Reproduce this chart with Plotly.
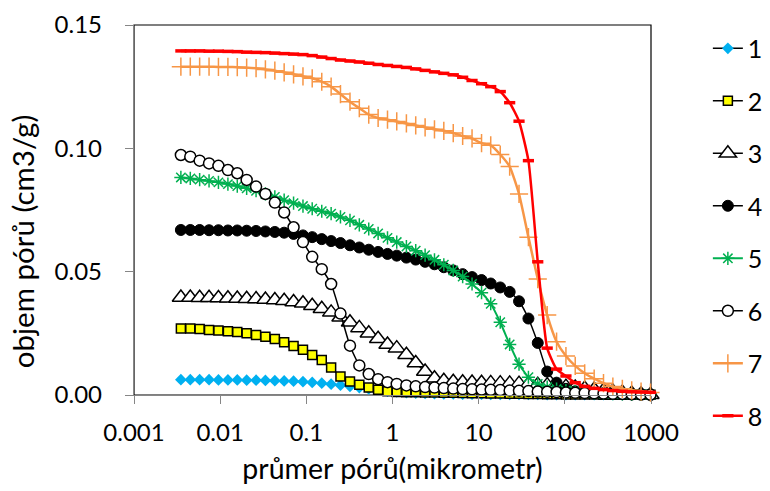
import plotly.graph_objects as go

# pore diameter (micrometre), shared measurement grid
diameter = [0.0035, 0.0045, 0.00578, 0.00743, 0.00955, 0.0123, 0.0158, 0.0203, 0.0261, 0.0335,
            0.0431, 0.0553, 0.0711, 0.0914, 0.117, 0.151, 0.194, 0.249, 0.321, 0.412,
            0.530, 0.681, 0.875, 1.12, 1.45, 1.86, 2.39, 3.07, 3.94, 5.07,
            6.52, 8.38, 10.8, 13.8, 17.8, 22.9, 29.4, 37.8, 48.5, 62.4,
            80.2, 103, 132, 170, 219, 281, 361, 465, 597, 767, 986]

s1 = [0.0062, 0.0062, 0.0062, 0.0062, 0.0061, 0.0061, 0.0061, 0.0060, 0.0060, 0.0059,
      0.0058, 0.0057, 0.0056, 0.0054, 0.0051, 0.0048, 0.0044, 0.0040, 0.0035, 0.0030,
      0.0025, 0.0020, 0.0016, 0.0013, 0.0010, 0.0008, 0.0006, 0.0005, 0.0004, 0.0004,
      0.0003, 0.0003, 0.0003, 0.0002, 0.0002, 0.0002, 0.0002, 0.0002, 0.0002, 0.0001,
      0.0001, 0.0001, 0.0001, 0.0001, 0.0001, 0.0001, 0.0001, 0.0001, 0.0001, 0.0001, 0.0001]
s2 = [0.0270, 0.0270, 0.0268, 0.0264, 0.0261, 0.0258, 0.0255, 0.0250, 0.0243, 0.0236,
      0.0227, 0.0214, 0.0199, 0.0183, 0.0162, 0.0142, 0.0111, 0.0075, 0.0055, 0.0042,
      0.0030, 0.0021, 0.0015, 0.0012, 0.0011, 0.0011, 0.0010, 0.0010, 0.0009, 0.0009,
      0.0008, 0.0007, 0.0007, 0.0006, 0.0006, 0.0005, 0.0005, 0.0004, 0.0004, 0.0003,
      0.0003, 0.0002, 0.0002, 0.0002, 0.0002, 0.0001, 0.0001, 0.0001, 0.0001, 0.0001, 0.0001]
s3 = [0.0395, 0.0395, 0.0394, 0.0394, 0.0393, 0.0392, 0.0391, 0.0390, 0.0389, 0.0387,
      0.0385, 0.0382, 0.0377, 0.0372, 0.0362, 0.0350, 0.0335, 0.0315, 0.0295, 0.0272,
      0.0250, 0.0228, 0.0205, 0.0190, 0.0163, 0.0130, 0.0095, 0.0068, 0.0058, 0.0054,
      0.0052, 0.0051, 0.0050, 0.0049, 0.0048, 0.0047, 0.0046, 0.0044, 0.0042, 0.0040,
      0.0037, 0.0034, 0.0030, 0.0026, 0.0022, 0.0018, 0.0014, 0.0010, 0.0006, 0.0003, 0.0001]
s4 = [0.0669, 0.0669, 0.0669, 0.0668, 0.0668, 0.0667, 0.0667, 0.0666, 0.0665, 0.0663,
      0.0661, 0.0658, 0.0653, 0.0647, 0.0640, 0.0632, 0.0624, 0.0616, 0.0607, 0.0598,
      0.0589, 0.0580, 0.0572, 0.0565, 0.0557, 0.0549, 0.0540, 0.0530, 0.0518, 0.0505,
      0.0490, 0.0478, 0.0466, 0.0452, 0.0436, 0.0418, 0.0380, 0.0310, 0.0211, 0.0095,
      0.0050, 0.0025, 0.0015, 0.0011, 0.0008, 0.0006, 0.0005, 0.0004, 0.0003, 0.0002, 0.0001]
s5 = [0.0882, 0.0878, 0.0873, 0.0868, 0.0862, 0.0855, 0.0847, 0.0838, 0.0828, 0.0815,
      0.0803, 0.0790, 0.0778, 0.0766, 0.0755, 0.0745, 0.0735, 0.0722, 0.0708, 0.0690,
      0.0673, 0.0655, 0.0637, 0.0620, 0.0602, 0.0585, 0.0567, 0.0548, 0.0528, 0.0505,
      0.0480, 0.0450, 0.0415, 0.0370, 0.0295, 0.0205, 0.0125, 0.0072, 0.0045, 0.0032,
      0.0024, 0.0018, 0.0014, 0.0011, 0.0008, 0.0006, 0.0005, 0.0004, 0.0003, 0.0002, 0.0001]
s6 = [0.0973, 0.0966, 0.0950, 0.0939, 0.0929, 0.0912, 0.0899, 0.0872, 0.0845, 0.0815,
      0.0780, 0.0740, 0.0680, 0.0620, 0.0560, 0.0510, 0.0450, 0.0330, 0.0200, 0.0120,
      0.0085, 0.0064, 0.0052, 0.0045, 0.0039, 0.0035, 0.0032, 0.0030, 0.0028, 0.0026,
      0.0024, 0.0023, 0.0022, 0.0021, 0.0020, 0.0018, 0.0017, 0.0016, 0.0014, 0.0013,
      0.0012, 0.0010, 0.0009, 0.0008, 0.0007, 0.0006, 0.0005, 0.0004, 0.0003, 0.0002, 0.0001]
s7 = [0.1331, 0.1331, 0.1331, 0.1331, 0.1330, 0.1330, 0.1329, 0.1327, 0.1325, 0.1320,
      0.1315, 0.1308, 0.1300, 0.1292, 0.1284, 0.1270, 0.1250, 0.1220, 0.1189, 0.1163,
      0.1137, 0.1123, 0.1116, 0.1109, 0.1101, 0.1093, 0.1085, 0.1077, 0.1071, 0.1062,
      0.1050, 0.1040, 0.1021, 0.1012, 0.0975, 0.0926, 0.0815, 0.0640, 0.0470, 0.0324,
      0.0216, 0.0158, 0.0118, 0.0088, 0.0066, 0.0048, 0.0034, 0.0025, 0.0019, 0.0014, 0.0010]
s8 = [0.1395, 0.1395, 0.1395, 0.1394, 0.1394, 0.1393, 0.1392, 0.1390, 0.1389, 0.1388,
      0.1386, 0.1384, 0.1382, 0.1380, 0.1376, 0.1370, 0.1364, 0.1358, 0.1354, 0.1350,
      0.1345, 0.1340, 0.1336, 0.1332, 0.1328, 0.1322, 0.1316, 0.1310, 0.1304, 0.1298,
      0.1288, 0.1275, 0.1262, 0.1250, 0.1230, 0.1185, 0.1110, 0.0950, 0.0540, 0.0190,
      0.0105, 0.0077, 0.0050, 0.0035, 0.0027, 0.0022, 0.0018, 0.0015, 0.0013, 0.0012, 0.0011]

names = ["1", "2", "3", "4", "5", "6", "7", "8"]
values = [s1, s2, s3, s4, s5, s6, s7, s8]

x_ticks = [0.001, 0.01, 0.1, 1, 10, 100, 1000]
x_tick_text = ["0.001", "0.01", "0.1", "1", "10", "100", "1000"]
y_ticks = [0.0, 0.05, 0.10, 0.15]
x_title = "průmer pórů(mikrometr)"
y_title = "objem pórů (cm3/g)"

styles = [
    dict(line=dict(color="black", width=1.5),
         marker=dict(symbol="diamond", size=9, color="#00B0F0", line=dict(width=0))),
    dict(line=dict(color="black", width=1.5),
         marker=dict(symbol="square", size=9, color="#FFFF00", line=dict(color="black", width=1.5))),
    dict(line=dict(color="black", width=1.5),
         marker=dict(symbol="triangle-up", size=15, color="white", line=dict(color="black", width=1.5))),
    dict(line=dict(color="black", width=1.5),
         marker=dict(symbol="circle", size=11, color="black", line=dict(color="black", width=1))),
    dict(line=dict(color="#00B050", width=2),
         marker=dict(symbol="asterisk-open", size=11, color="#00B050", line=dict(color="#00B050", width=1.5))),
    dict(line=dict(color="black", width=1.5),
         marker=dict(symbol="circle", size=11, color="white", line=dict(color="black", width=1.5))),
    dict(line=dict(color="#F79646", width=2.5),
         marker=dict(symbol="cross-thin-open", size=13, color="#F79646", line=dict(color="#F79646", width=1.5))),
    dict(line=dict(color="#FF0000", width=2.5),
         marker=dict(symbol="line-ew-open", size=8, color="#FF0000", line=dict(color="#FF0000", width=3.5))),
]

font = "Lato"
fig = go.Figure()
for i, (nm, ys) in enumerate(zip(names, values)):
    st = styles[i]
    fig.add_trace(go.Scatter(
        x=diameter, y=ys, name=nm, mode="lines+markers",
        line=dict(shape="spline", smoothing=0.5, **st["line"]),
        marker=st["marker"], cliponaxis=False, legendgroup=nm,
    ))

fig.update_layout(
    width=770, height=491,
    margin=dict(l=134, r=119, t=25, b=96, autoexpand=False),
    paper_bgcolor="white", plot_bgcolor="white",
    font=dict(family=font, size=24, color="black"),
    showlegend=True,
    legend=dict(x=1.11, xanchor="left", yref="container", y=0.948, yanchor="top",
                maxheight=1.0, font=dict(size=25), tracegroupgap=17, traceorder="grouped",
                bgcolor="rgba(0,0,0,0)"),
    shapes=[dict(type="rect", xref="paper", yref="paper", x0=0, x1=1, y0=0, y1=1,
                 line=dict(color="black", width=1.2), layer="below")],
    annotations=[dict(text=y_title, xref="paper", yref="paper", x=-0.2166, y=0.413,
                      xanchor="center", yanchor="middle", textangle=-90, showarrow=False,
                      font=dict(size=29.5))],
)
fig.update_xaxes(
    type="log", range=[-3, 3], tickvals=x_ticks, ticktext=x_tick_text,
    showgrid=False, zeroline=False, showline=True, linecolor="#868686", linewidth=1.3,
    ticks="outside", ticklen=8, tickcolor="#868686", tickwidth=1.3, ticklabelstandoff=8,
    title=dict(text=x_title, font=dict(size=28.5), standoff=14),
)
fig.update_yaxes(
    range=[0, 0.15], tickvals=y_ticks, tickformat=".2f",
    showgrid=False, zeroline=False, showline=True, linecolor="#868686", linewidth=1.3,
    ticks="outside", ticklen=8, tickcolor="#868686", tickwidth=1.3, ticklabelstandoff=18,
)
fig.write_html("out.html")
